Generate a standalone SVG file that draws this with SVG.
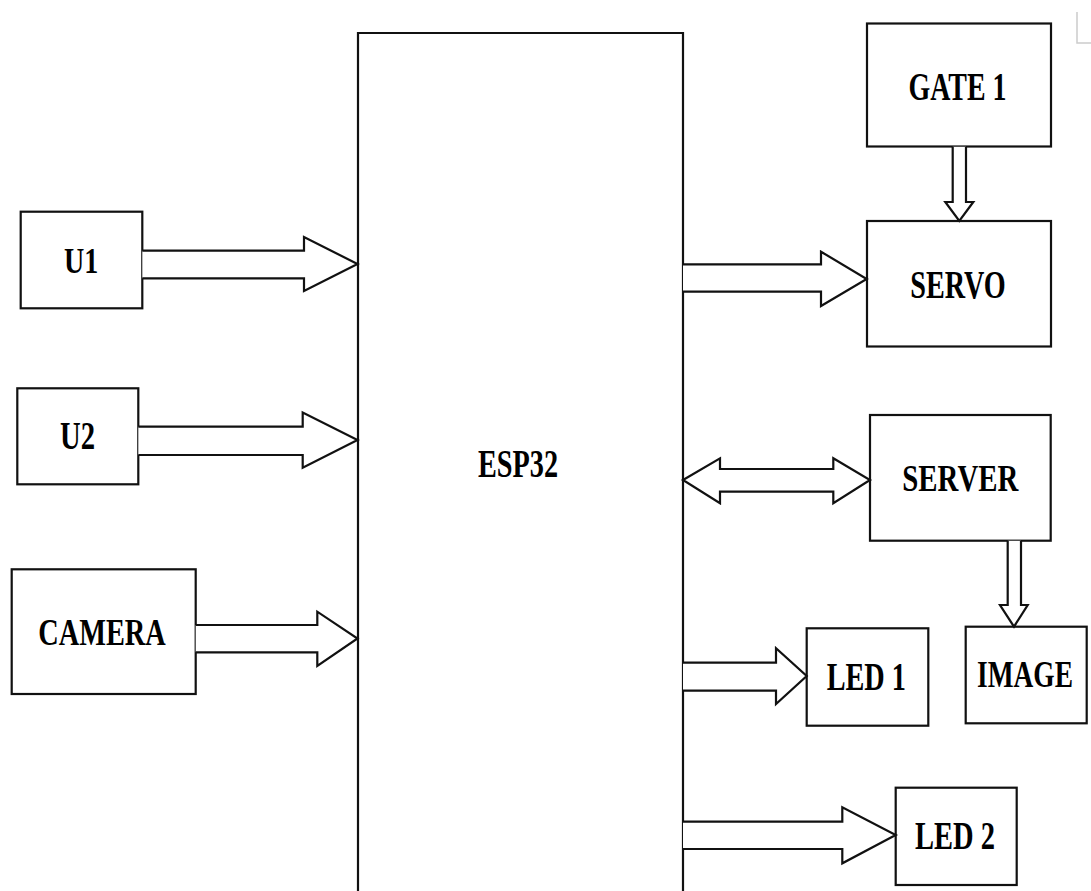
<svg xmlns="http://www.w3.org/2000/svg" width="1091" height="891" viewBox="0 0 1091 891">
<style>
.box{fill:#fff;stroke:#111;stroke-width:2.2}
.arr{fill:#fff;stroke:#111;stroke-width:2.2;stroke-linejoin:miter}
.lbl{font-family:"Liberation Serif","Times New Roman",serif;font-weight:bold;fill:#000;text-anchor:middle}
</style>
<rect width="1091" height="891" fill="#fff"/>
<path d="M1077,12 V43 H1091" fill="none" stroke="#ccc" stroke-width="1.5"/>
<g id="esp32">
<path class="box" d="M358,900 V33 H683 V900"/>
<text class="lbl" x="518" y="477" font-size="40" textLength="80" lengthAdjust="spacingAndGlyphs">ESP32</text>
</g>
<g id="gate1">
<rect class="box" x="867" y="23.5" width="184" height="123"/>
<text class="lbl" x="957.5" y="100" font-size="40" textLength="98" lengthAdjust="spacingAndGlyphs">GATE 1</text>
</g>
<g id="servo">
<rect class="box" x="867" y="221" width="184" height="125.5"/>
<text class="lbl" x="958" y="297.5" font-size="39" textLength="95.5" lengthAdjust="spacingAndGlyphs">SERVO</text>
</g>
<g id="u1">
<rect class="box" x="20.7" y="211.7" width="121.6" height="96.6"/>
<text class="lbl" x="81.2" y="272.7" font-size="35" textLength="34.3" lengthAdjust="spacingAndGlyphs">U1</text>
</g>
<g id="u2">
<rect class="box" x="17.3" y="388.3" width="121" height="96"/>
<text class="lbl" x="77.5" y="449.3" font-size="39" textLength="35" lengthAdjust="spacingAndGlyphs">U2</text>
</g>
<g id="camera">
<rect class="box" x="11.7" y="569.3" width="184" height="124.7"/>
<text class="lbl" x="102" y="645" font-size="38" textLength="127.4" lengthAdjust="spacingAndGlyphs">CAMERA</text>
</g>
<g id="server">
<rect class="box" x="870" y="415" width="180.7" height="125.7"/>
<text class="lbl" x="960.3" y="491" font-size="37" textLength="116" lengthAdjust="spacingAndGlyphs">SERVER</text>
</g>
<g id="image">
<rect class="box" x="965.7" y="626.7" width="121" height="96.6"/>
<text class="lbl" transform="translate(1025,686.7) scale(0.741,1)" x="0" y="0" font-size="37">IMAGE</text>
</g>
<g id="led1">
<rect class="box" x="806.7" y="628.3" width="121.6" height="97.4"/>
<text class="lbl" x="866.3" y="690" font-size="40" textLength="79.3" lengthAdjust="spacingAndGlyphs">LED 1</text>
</g>
<g id="led2">
<rect class="box" x="895.7" y="787.7" width="121" height="97.3"/>
<text class="lbl" x="955" y="849" font-size="39" textLength="80" lengthAdjust="spacingAndGlyphs">LED 2</text>
</g>
<g id="connectors">
<path class="arr" d="M142.3,250.7 H304 V237 L357.5,264 L304,291 V278.3 H142.3"/>
<path class="arr" d="M138.3,426.7 H302.7 V412.5 L357.5,440 L302.7,467.8 V455 H138.3"/>
<path class="arr" d="M195.7,625 H317.3 V611.7 L357.5,638.5 L317.3,666 V652.3 H195.7"/>
<path class="arr" d="M683,264.3 H821 V251.7 L866.7,279 L821,306 V291.7 H683"/>
<path class="arr" d="M683,480 L720,458.3 V469 H833.3 V458.3 L870,480 L833.3,503.3 V491.7 H720 V503.3 Z"/>
<path class="arr" d="M683,662.7 H776 V648.3 L806.7,676 L776,704 V690.7 H683"/>
<path class="arr" d="M683,821.7 H842.3 V807.3 L895.7,835 L842.3,863.3 V849 H683"/>
<path class="arr" d="M952.7,146.7 V202 H945.3 L959.3,221 L973.3,202 H966 V146.7"/>
<path class="arr" d="M1007.7,540.7 V605 H1000 L1014,626.7 L1027.7,605 H1021 V540.7"/>
</g>
</svg>
